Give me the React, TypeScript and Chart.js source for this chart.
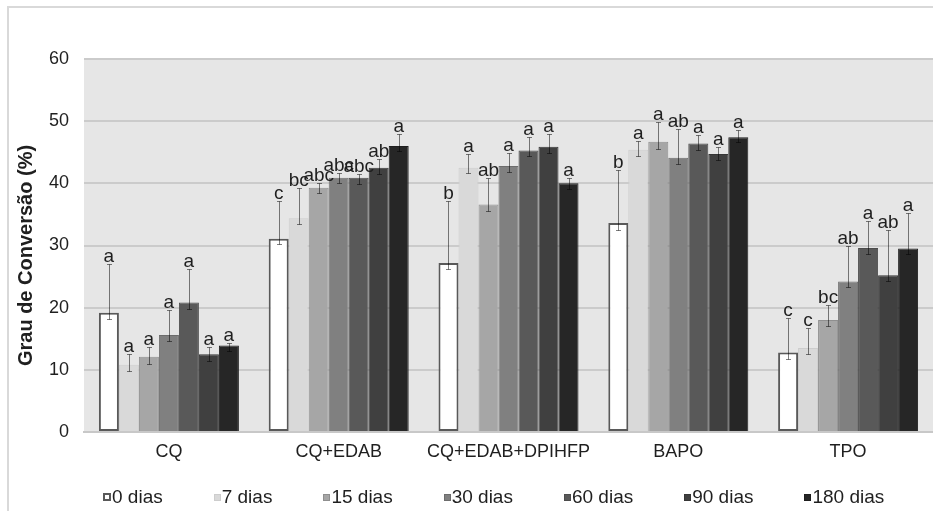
import React, { useEffect, useRef } from "react";
import { Chart, registerables } from "chart.js";

Chart.register(...registerables);

const categories = ["CQ", "CQ+EDAB", "CQ+EDAB+DPIHFP", "BAPO", "TPO"];
const seriesLabels = ["0 dias", "7 dias", "15 dias", "30 dias", "60 dias", "90 dias", "180 dias"];

const d0 = [19.2, 31.1, 27.2, 33.6, 12.8];
const d7 = [10.8, 34.4, 42.5, 45.4, 13.5];
const d15 = [12.1, 39.3, 36.6, 46.7, 18.0];
const d30 = [15.6, 40.9, 42.8, 44.1, 24.2];
const d60 = [20.85, 40.9, 45.3, 46.4, 29.6];
const d90 = [12.5, 42.5, 45.9, 44.7, 25.2];
const d180 = [13.9, 46.0, 40.0, 47.4, 29.5];

const h0 = [27.1, 37.2, 37.2, 42.1, 18.3];
const h7 = [12.5, 39.2, 44.7, 46.8, 16.8];
const h15 = [13.7, 40.0, 40.9, 49.8, 20.4];
const h30 = [19.6, 41.7, 44.8, 48.7, 29.9];
const h60 = [26.3, 41.5, 47.5, 47.7, 34.0];
const h90 = [13.6, 43.9, 48.0, 45.9, 32.5];
const h180 = [14.3, 48.0, 40.8, 48.6, 35.3];

const l0 = [18.2, 30.2, 26.2, 32.5, 11.8];
const l7 = [9.8, 33.4, 41.6, 44.4, 12.5];
const l15 = [11.0, 38.4, 35.6, 45.6, 17.0];
const l30 = [14.6, 40.0, 41.8, 43.1, 23.3];
const l60 = [19.8, 39.9, 44.4, 45.3, 28.7];
const l90 = [11.5, 41.5, 44.8, 43.8, 24.3];
const l180 = [13.0, 45.2, 39.1, 46.6, 28.6];

const L0 = ["a", "c", "b", "b", "c"];
const L7 = ["a", "bc", "a", "a", "c"];
const L15 = ["a", "abc", "ab", "a", "bc"];
const L30 = ["a", "abc", "a", "ab", "ab"];
const L60 = ["a", "abc", "a", "a", "a"];
const L90 = ["a", "ab", "a", "a", "ab"];
const L180 = ["a", "a", "a", "a", "a"];

const yTicks = [0, 10, 20, 30, 40, 50, 60];
const yTitle = "Grau de Conversão (%)";

const values = [d0, d7, d15, d30, d60, d90, d180];
const highs = [h0, h7, h15, h30, h60, h90, h180];
const lows = [l0, l7, l15, l30, l60, l90, l180];
const letters = [L0, L7, L15, L30, L60, L90, L180];

const fills = ["#ffffff", "#d9d9d9", "#a6a6a6", "#808080", "#595959", "#404040", "#262626"];
const borders = ["#595959", "#cdcdcd", "#8f8f8f", "#6c6c6c", "#4c4c4c", "#363636", "#1e1e1e"];
const borderWidths = [2, 1, 1, 1, 1, 1, 1];

const FONT = '"Liberation Sans", Arial, sans-serif';
const TEXT = "#1f1f1f";

const plotBg = {
  id: "plotBg",
  beforeDraw(chart: any) {
    const { ctx, chartArea } = chart;
    ctx.save();
    ctx.fillStyle = "#e6e6e6";
    ctx.fillRect(chartArea.left, chartArea.top, chartArea.right - chartArea.left, chartArea.bottom - chartArea.top);
    ctx.restore();
  },
};

const errorsAndLetters = {
  id: "errorsAndLetters",
  afterDatasetsDraw(chart: any) {
    const { ctx } = chart;
    const y = chart.scales.y;
    ctx.save();
    chart.data.datasets.forEach((_: any, i: number) => {
      const meta = chart.getDatasetMeta(i);
      meta.data.forEach((el: any, j: number) => {
        const x = Math.round(el.x) + 0.5;
        const yh = Math.round(y.getPixelForValue(highs[i][j])) + 0.5;
        const yl = Math.round(y.getPixelForValue(lows[i][j])) + 0.5;
        ctx.strokeStyle = "rgba(0,0,0,0.5)";
        ctx.lineWidth = 1;
        ctx.beginPath();
        ctx.moveTo(x, yh);
        ctx.lineTo(x, yl);
        ctx.moveTo(x - 2.5, yh);
        ctx.lineTo(x + 2.5, yh);
        ctx.moveTo(x - 2.5, yl);
        ctx.lineTo(x + 2.5, yl);
        ctx.stroke();
        ctx.fillStyle = TEXT;
        ctx.font = `19px ${FONT}`;
        ctx.textAlign = "center";
        ctx.textBaseline = "alphabetic";
        ctx.fillText(letters[i][j], el.x, yh - 3);
      });
    });
    ctx.restore();
  },
};

const titleAndLegend = {
  id: "titleAndLegend",
  afterDraw(chart: any) {
    const { ctx, chartArea } = chart;
    ctx.save();
    // y axis title
    ctx.translate(26, (chartArea.top + chartArea.bottom) / 2 + 10);
    ctx.rotate(-Math.PI / 2);
    ctx.font = `bold 20px ${FONT}`;
    ctx.fillStyle = TEXT;
    ctx.textAlign = "center";
    ctx.textBaseline = "middle";
    ctx.fillText(yTitle, 0, 0);
    ctx.restore();

    // legend
    ctx.save();
    ctx.font = `19px ${FONT}`;
    ctx.textBaseline = "middle";
    ctx.textAlign = "left";
    const cy = 497;
    let x = chartArea.left + 19;
    chart.data.datasets.forEach((ds: any, i: number) => {
      const bw = ds.borderWidth;
      ctx.fillStyle = ds.backgroundColor;
      ctx.strokeStyle = ds.borderColor;
      ctx.lineWidth = bw;
      const size = i === 0 ? 8 : 7;
      const bx = Math.round(x);
      const by = Math.round(cy - size / 2);
      ctx.fillRect(bx, by, size, size);
      ctx.strokeRect(bx + bw / 2, by + bw / 2, size - bw, size - bw);
      ctx.fillStyle = TEXT;
      ctx.fillText(ds.label, x + size + 1, cy + 1);
      x += size + 1 + ctx.measureText(ds.label).width + 51;
    });
    ctx.restore();
  },
};

export default function App() {
  const ref = useRef<HTMLCanvasElement>(null);
  useEffect(() => {
    if (!ref.current) return;
    const chart = new Chart(ref.current, {
      type: "bar",
      data: {
        labels: categories,
        datasets: seriesLabels.map((label, i) => ({
          label,
          data: values[i],
          backgroundColor: fills[i],
          borderColor: borders[i],
          borderWidth: borderWidths[i],
          borderSkipped: i === 0 ? false : "start",
          categoryPercentage: 0.8245,
          barPercentage: 1,
        })),
      },
      options: {
        responsive: false,
        animation: false,
        devicePixelRatio: 1,
        layout: { padding: { top: 59, left: 0, right: 0, bottom: 0 } },
        plugins: {
          legend: { display: false },
          tooltip: { enabled: false },
          title: { display: false },
        },
        scales: {
          x: {
            grid: { display: false, drawTicks: false },
            border: { display: true, color: "#c8c8c8", width: 2 },
            ticks: { font: { family: FONT, size: 18 }, color: TEXT, padding: 9 },
            afterFit: (s: any) => {
              s.height = 79;
            },
          },
          y: {
            min: 0,
            max: 60,
            afterBuildTicks: (s: any) => {
              s.ticks = yTicks.map((v) => ({ value: v }));
            },
            ticks: { font: { family: FONT, size: 18 }, color: TEXT, padding: 15 },
            grid: { color: "#cbcbcb", lineWidth: 2, drawTicks: false },
            border: { display: false },
            afterFit: (s: any) => {
              s.width = 84;
            },
          },
        },
      },
      plugins: [plotBg, errorsAndLetters, titleAndLegend],
    } as any);
    return () => chart.destroy();
  }, []);
  return (
    <div style={{ position: "fixed", left: 0, top: 0, width: 933, height: 511, overflow: "hidden", background: "#fff" }}>
      <div
        style={{
          position: "absolute",
          left: 7,
          top: 6,
          width: 1000,
          height: 1000,
          border: "2px solid #d9d9d9",
        }}
      />
      <canvas ref={ref} width={933} height={511} style={{ position: "absolute", left: 0, top: 0, width: 933, height: 511 }} />
    </div>
  );
}
